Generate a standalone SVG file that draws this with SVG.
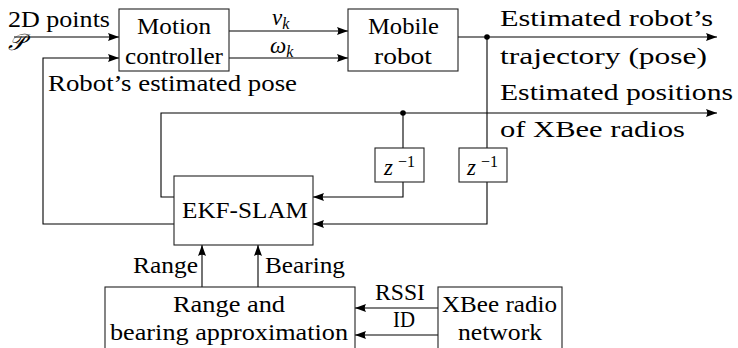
<svg xmlns="http://www.w3.org/2000/svg" width="738" height="348" viewBox="0 0 738 348">
  <style>
    .box { fill: #fff; stroke: #222; stroke-width: 1.1; }
    .wire { fill: none; stroke: #000; stroke-width: 1.1; }
    .arr { marker-end: url(#tip); }
    text { font-size: 23px; fill: #000; }
    .it { font-style: italic; }
    .sub { font-size: 16px; font-style: italic; }
    .sup { font-size: 16px; }
  </style>
  <defs>
    <marker id="tip" markerUnits="userSpaceOnUse" viewBox="0 0 11 8" refX="11" refY="4" markerWidth="11" markerHeight="8" orient="auto">
      <path d="M0,0 L11,4 L0,8 Q2.5,4 0,0 Z" fill="#000"/>
    </marker>
  </defs>

  <!-- signal lines and their labels -->
  <g id="connectors" font-family="Liberation Serif, DejaVu Serif, Noto Serif, serif">
    <path class="wire arr" d="M14,37 H119"/>
    <path class="wire arr" d="M174,224 H43 V58 H119"/>
    <path class="wire arr" d="M229,31 H348"/>
    <path class="wire arr" d="M229,58 H348"/>
    <path class="wire arr" d="M458,37 H717"/>
    <path class="wire" d="M487,37 V148"/>
    <path class="wire arr" d="M487,182 V224 H313"/>
    <path class="wire arr" d="M174,197 H161 V113 H717"/>
    <path class="wire" d="M403,113 V148"/>
    <path class="wire arr" d="M403,182 V197 H313"/>
    <path class="wire arr" d="M202,287 V245"/>
    <path class="wire arr" d="M258,287 V245"/>
    <path class="wire arr" d="M438,308 H355"/>
    <path class="wire arr" d="M438,335 H355"/>
    <circle cx="487" cy="37" r="2.8" fill="#000"/>
    <circle cx="403" cy="113" r="2.8" fill="#000"/>
    <text x="8" y="27" textLength="102" lengthAdjust="spacingAndGlyphs">2D points</text>
    <text x="8" y="50" class="it">𝒫</text>
    <text x="272" y="25" class="it">ν<tspan class="sub" dy="4">k</tspan></text>
    <text x="270" y="53" class="it">ω<tspan class="sub" dy="4">k</tspan></text>
    <text x="48" y="91" textLength="249" lengthAdjust="spacingAndGlyphs">Robot’s estimated pose</text>
    <text x="500" y="26" textLength="213" lengthAdjust="spacingAndGlyphs">Estimated robot’s</text>
    <text x="500" y="64" textLength="207" lengthAdjust="spacingAndGlyphs">trajectory (pose)</text>
    <text x="500" y="100" textLength="233" lengthAdjust="spacingAndGlyphs">Estimated positions</text>
    <text x="500" y="137" textLength="185" lengthAdjust="spacingAndGlyphs">of XBee radios</text>
    <text x="133" y="273" textLength="65" lengthAdjust="spacingAndGlyphs">Range</text>
    <text x="265" y="273" textLength="80" lengthAdjust="spacingAndGlyphs">Bearing</text>
    <text x="375" y="300" textLength="50" lengthAdjust="spacingAndGlyphs">RSSI</text>
    <text x="393" y="327" textLength="22" lengthAdjust="spacingAndGlyphs">ID</text>
  </g>

  <g id="motion-controller" font-family="Liberation Serif, DejaVu Serif, Noto Serif, serif">
    <rect class="box" x="119" y="9" width="110" height="62"/>
    <text x="137" y="34" textLength="74" lengthAdjust="spacingAndGlyphs">Motion</text>
    <text x="125" y="64" textLength="98" lengthAdjust="spacingAndGlyphs">controller</text>
  </g>

  <g id="mobile-robot" font-family="Liberation Serif, DejaVu Serif, Noto Serif, serif">
    <rect class="box" x="348" y="9" width="110" height="62"/>
    <text x="368" y="34" textLength="71" lengthAdjust="spacingAndGlyphs">Mobile</text>
    <text x="374" y="64" textLength="58" lengthAdjust="spacingAndGlyphs">robot</text>
  </g>

  <g id="delay-landmarks" font-family="Liberation Serif, DejaVu Serif, Noto Serif, serif">
    <rect class="box" x="375" y="148" width="49" height="34"/>
    <text x="384" y="175" class="it">z</text>
    <text x="398" y="167" class="sup">−1</text>
  </g>

  <g id="delay-pose" font-family="Liberation Serif, DejaVu Serif, Noto Serif, serif">
    <rect class="box" x="459" y="148" width="48" height="34"/>
    <text x="467" y="175" class="it">z</text>
    <text x="481" y="167" class="sup">−1</text>
  </g>

  <g id="ekf-slam" font-family="Liberation Serif, DejaVu Serif, Noto Serif, serif">
    <rect class="box" x="174" y="176" width="139" height="69"/>
    <text x="182" y="218" textLength="126" lengthAdjust="spacingAndGlyphs">EKF-SLAM</text>
  </g>

  <g id="range-bearing" font-family="Liberation Serif, DejaVu Serif, Noto Serif, serif">
    <rect class="box" x="105" y="287" width="250" height="80"/>
    <text x="173" y="312" textLength="112" lengthAdjust="spacingAndGlyphs">Range and</text>
    <text x="110" y="340" textLength="238" lengthAdjust="spacingAndGlyphs">bearing approximation</text>
  </g>

  <g id="xbee-network" font-family="Liberation Serif, DejaVu Serif, Noto Serif, serif">
    <rect class="box" x="438" y="287" width="124" height="80"/>
    <text x="442" y="312" textLength="115" lengthAdjust="spacingAndGlyphs">XBee radio</text>
    <text x="458" y="340" textLength="84" lengthAdjust="spacingAndGlyphs">network</text>
  </g>
</svg>
